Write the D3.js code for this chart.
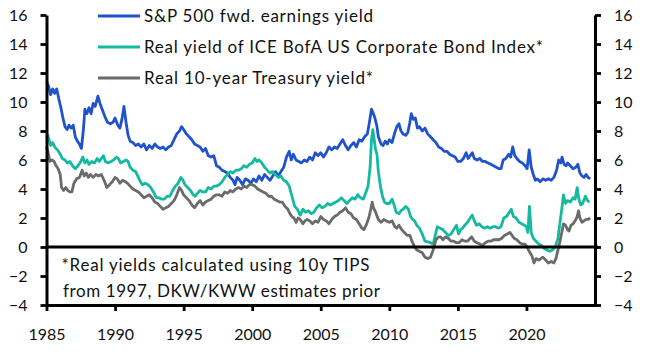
<!DOCTYPE html>
<html><head><meta charset="utf-8">
<script src="https://cdn.jsdelivr.net/npm/d3@7"></script>
<style>
html,body{margin:0;padding:0;background:#fff;}
svg{display:block;font-family:Lato,"Open Sans",sans-serif;}
</style></head><body>
<svg id="chart" width="646" height="355"></svg>
<script>
const seriesNames = ["S&P 500 fwd. earnings yield", "Real yield of ICE BofA US Corporate Bond Index*", "Real 10-year Treasury yield*"];
const seriesColors = ["#2052cc", "#14b9a0", "#6b6b6b"];

const spDates = [1985.0,1985.15,1985.3,1985.45,1985.6,1985.75,1985.9,1986.05,1986.2,1986.35,1986.5,1986.65,1986.8,1986.95,1987.1,1987.25,1987.4,1987.55,1987.7,1987.8,1987.95,1988.1,1988.25,1988.4,1988.55,1988.75,1988.9,1989.1,1989.3,1989.45,1989.65,1989.85,1990.0,1990.2,1990.35,1990.5,1990.65,1990.8,1990.95,1991.1,1991.3,1991.5,1991.7,1991.9,1992.1,1992.3,1992.5,1992.7,1992.9,1993.1,1993.3,1993.5,1993.7,1993.9,1994.1,1994.3,1994.5,1994.7,1994.85,1995.0,1995.2,1995.4,1995.6,1995.8,1996.0,1996.2,1996.4,1996.6,1996.8,1997.0,1997.2,1997.4,1997.6,1997.8,1998.0,1998.2,1998.4,1998.6,1998.75,1998.9,1999.1,1999.3,1999.5,1999.7,1999.9,2000.1,2000.3,2000.5,2000.7,2000.9,2001.1,2001.3,2001.5,2001.7,2001.9,2002.1,2002.3,2002.5,2002.7,2002.85,2003.0,2003.2,2003.4,2003.6,2003.8,2004.0,2004.2,2004.4,2004.6,2004.8,2005.0,2005.2,2005.4,2005.6,2005.8,2006.0,2006.2,2006.4,2006.6,2006.8,2007.0,2007.2,2007.4,2007.6,2007.8,2008.0,2008.2,2008.4,2008.55,2008.7,2008.8,2008.95,2009.1,2009.2,2009.4,2009.55,2009.7,2009.85,2010.0,2010.2,2010.4,2010.55,2010.7,2010.85,2011.0,2011.2,2011.35,2011.5,2011.6,2011.75,2011.9,2012.05,2012.2,2012.4,2012.6,2012.8,2013.0,2013.2,2013.4,2013.6,2013.8,2014.0,2014.2,2014.4,2014.6,2014.8,2015.0,2015.2,2015.4,2015.6,2015.75,2015.9,2016.05,2016.2,2016.4,2016.6,2016.8,2017.0,2017.2,2017.4,2017.6,2017.8,2018.0,2018.15,2018.3,2018.5,2018.7,2018.85,2019.0,2019.15,2019.3,2019.5,2019.7,2019.9,2020.05,2020.2,2020.35,2020.5,2020.65,2020.8,2021.0,2021.2,2021.4,2021.6,2021.8,2022.0,2022.2,2022.35,2022.5,2022.6,2022.75,2022.9,2023.0,2023.2,2023.4,2023.6,2023.75,2023.9,2024.05,2024.2,2024.35,2024.5,2024.65];
const spValues = [11.4,11.1,10.5,10.9,10.6,10.9,10.2,9.6,8.9,8.3,8.1,8.4,8.2,8.4,7.6,7.3,7.1,6.8,8.2,9.5,9.2,9.6,9.2,9.9,9.7,10.4,9.9,9.4,8.9,8.6,8.5,8.6,8.9,8.4,8.2,8.8,9.7,8.6,7.7,7.3,7.2,7.0,7.1,6.9,7.1,6.7,7.0,6.8,7.1,6.9,6.8,6.9,6.7,6.9,7.0,7.4,7.8,8.0,8.3,8.1,7.8,7.6,7.4,7.1,7.0,6.9,6.6,6.8,6.3,6.2,6.3,5.6,5.5,5.3,5.2,5.1,4.8,4.6,4.3,4.8,4.6,4.3,4.7,4.6,4.4,4.7,4.5,4.9,4.6,5.0,4.8,4.6,4.9,5.2,4.9,5.2,5.5,6.2,6.6,6.0,6.4,6.0,5.9,5.8,6.0,5.9,6.2,6.0,6.5,6.3,6.5,6.2,6.5,6.9,6.7,6.9,6.8,7.1,7.4,7.0,6.7,7.0,7.2,6.9,7.4,7.3,7.6,7.8,8.6,9.5,9.3,8.9,8.3,7.6,7.1,7.0,7.3,7.1,7.4,7.2,7.9,8.3,8.5,8.0,7.8,7.7,7.9,8.6,9.2,8.8,8.9,8.2,8.3,8.0,8.2,7.8,7.6,7.4,7.2,6.9,6.8,6.6,6.6,6.4,6.3,6.2,5.9,5.9,6.1,6.5,6.1,6.3,6.5,6.1,6.0,6.1,5.9,5.9,5.8,5.7,5.6,5.5,5.4,5.4,6.0,6.1,6.4,6.2,6.9,6.3,6.1,5.9,5.8,5.6,5.4,6.7,5.5,5.0,4.6,4.7,4.5,4.7,4.6,4.7,4.6,4.8,5.3,6.0,5.8,6.2,5.7,5.6,5.8,5.6,5.4,5.5,5.7,5.1,4.9,4.8,5.0,4.8,4.7];

const corpDates = [1985.0,1985.1,1985.3,1985.45,1985.6,1985.8,1986.0,1986.15,1986.35,1986.5,1986.7,1986.9,1987.1,1987.3,1987.5,1987.65,1987.8,1987.95,1988.1,1988.3,1988.5,1988.7,1988.85,1989.0,1989.15,1989.3,1989.5,1989.7,1989.9,1990.1,1990.25,1990.4,1990.6,1990.8,1990.95,1991.1,1991.3,1991.5,1991.7,1991.85,1992.0,1992.2,1992.4,1992.6,1992.8,1993.0,1993.2,1993.4,1993.6,1993.8,1994.0,1994.2,1994.4,1994.6,1994.8,1994.95,1995.1,1995.3,1995.5,1995.7,1995.85,1996.0,1996.2,1996.4,1996.6,1996.8,1997.0,1997.2,1997.4,1997.6,1997.8,1998.0,1998.2,1998.4,1998.6,1998.8,1999.0,1999.2,1999.4,1999.6,1999.8,2000.0,2000.2,2000.35,2000.5,2000.7,2000.9,2001.1,2001.3,2001.5,2001.7,2001.9,2002.1,2002.3,2002.5,2002.7,2002.9,2003.1,2003.3,2003.5,2003.7,2003.9,2004.1,2004.3,2004.5,2004.7,2004.9,2005.1,2005.3,2005.5,2005.7,2005.9,2006.1,2006.3,2006.5,2006.7,2006.9,2007.1,2007.3,2007.5,2007.7,2007.9,2008.1,2008.3,2008.45,2008.6,2008.7,2008.8,2008.9,2009.0,2009.1,2009.2,2009.35,2009.5,2009.65,2009.8,2010.0,2010.2,2010.35,2010.5,2010.7,2010.85,2011.0,2011.2,2011.4,2011.55,2011.7,2011.85,2012.0,2012.2,2012.4,2012.6,2012.8,2013.0,2013.2,2013.35,2013.5,2013.7,2013.9,2014.1,2014.3,2014.5,2014.7,2014.9,2015.05,2015.2,2015.35,2015.5,2015.7,2015.9,2016.05,2016.2,2016.35,2016.55,2016.75,2016.95,2017.15,2017.35,2017.55,2017.75,2017.95,2018.15,2018.35,2018.55,2018.75,2018.9,2019.05,2019.25,2019.45,2019.65,2019.85,2020.0,2020.1,2020.22,2020.35,2020.5,2020.7,2020.9,2021.1,2021.3,2021.5,2021.7,2021.9,2022.1,2022.3,2022.45,2022.6,2022.7,2022.85,2023.0,2023.2,2023.4,2023.55,2023.7,2023.8,2023.95,2024.1,2024.3,2024.45,2024.6];
const corpValues = [7.5,7.7,7.0,7.2,6.9,6.7,6.4,6.1,6.0,5.8,5.9,5.6,5.4,5.6,5.9,6.2,5.8,6.0,5.7,5.9,5.8,6.1,5.9,6.1,6.3,5.9,5.8,5.9,6.0,6.2,6.1,5.8,5.9,6.0,5.9,5.5,5.3,5.2,4.8,4.5,4.3,4.4,4.3,4.1,3.8,3.4,3.4,3.3,3.3,3.5,3.5,3.9,4.2,4.4,4.8,4.6,4.3,4.1,3.9,3.6,3.5,3.7,3.9,3.8,3.8,4.1,4.0,4.2,4.2,4.3,4.5,4.8,5.0,5.2,5.1,5.3,5.3,5.4,5.6,5.5,5.7,5.8,6.1,5.9,6.0,5.8,5.5,5.3,5.1,5.2,5.0,4.8,4.9,4.6,4.5,4.2,3.5,2.8,2.6,2.2,2.6,2.4,2.5,2.3,2.4,2.7,2.9,2.7,2.8,3.0,2.9,3.0,3.1,3.2,3.4,3.2,3.0,3.2,3.4,3.3,3.6,3.4,3.3,3.8,4.2,5.5,7.4,8.1,7.4,6.7,6.4,5.2,4.2,3.5,3.1,3.0,3.0,3.3,2.9,2.4,2.3,2.5,2.6,2.8,2.6,2.1,1.9,1.8,1.5,1.3,0.9,0.4,0.35,0.3,0.2,0.8,1.4,1.3,1.2,1.0,0.8,0.9,1.2,1.5,0.9,1.2,1.3,1.5,1.7,2.0,2.2,1.8,1.5,1.6,1.4,1.3,1.4,1.3,1.4,1.4,1.3,1.4,2.0,2.1,2.4,2.6,2.1,2.0,1.7,1.6,1.5,1.4,1.0,2.8,1.0,0.6,0.4,0.2,0.1,-0.1,-0.2,-0.3,-0.2,0.0,0.6,1.7,2.8,3.6,3.0,3.2,3.1,3.4,3.3,4.1,3.4,2.9,3.0,3.5,3.2,3.1];

const tsyDates = [1985.0,1985.1,1985.25,1985.4,1985.55,1985.7,1985.85,1986.0,1986.1,1986.25,1986.4,1986.55,1986.7,1986.85,1987.0,1987.2,1987.4,1987.6,1987.75,1987.9,1988.05,1988.2,1988.4,1988.6,1988.8,1989.0,1989.2,1989.4,1989.6,1989.8,1990.0,1990.15,1990.35,1990.55,1990.75,1990.9,1991.1,1991.3,1991.5,1991.7,1991.9,1992.1,1992.3,1992.5,1992.7,1992.9,1993.1,1993.3,1993.5,1993.7,1993.9,1994.1,1994.3,1994.5,1994.7,1994.85,1995.0,1995.2,1995.4,1995.6,1995.8,1996.0,1996.2,1996.4,1996.6,1996.8,1997.0,1997.2,1997.4,1997.6,1997.8,1998.0,1998.2,1998.4,1998.6,1998.8,1999.0,1999.2,1999.4,1999.6,1999.8,2000.0,2000.2,2000.4,2000.6,2000.8,2001.0,2001.2,2001.4,2001.6,2001.8,2002.0,2002.2,2002.4,2002.6,2002.75,2002.9,2003.05,2003.2,2003.35,2003.5,2003.7,2003.85,2004.0,2004.2,2004.4,2004.6,2004.8,2005.0,2005.2,2005.4,2005.6,2005.8,2006.0,2006.2,2006.4,2006.6,2006.8,2007.0,2007.2,2007.4,2007.6,2007.8,2008.0,2008.15,2008.35,2008.5,2008.65,2008.75,2008.85,2009.0,2009.2,2009.4,2009.6,2009.8,2010.0,2010.2,2010.4,2010.55,2010.7,2010.9,2011.1,2011.3,2011.5,2011.65,2011.8,2012.0,2012.2,2012.4,2012.6,2012.8,2013.0,2013.2,2013.4,2013.6,2013.75,2013.9,2014.1,2014.3,2014.5,2014.7,2014.9,2015.1,2015.3,2015.5,2015.7,2015.9,2016.0,2016.2,2016.4,2016.6,2016.8,2017.0,2017.2,2017.4,2017.6,2017.8,2018.0,2018.2,2018.4,2018.6,2018.8,2018.95,2019.1,2019.3,2019.5,2019.7,2019.9,2020.05,2020.2,2020.4,2020.55,2020.7,2020.9,2021.05,2021.2,2021.4,2021.6,2021.8,2022.0,2022.15,2022.3,2022.45,2022.6,2022.7,2022.85,2023.0,2023.1,2023.25,2023.4,2023.55,2023.7,2023.8,2023.9,2024.05,2024.2,2024.35,2024.5,2024.65];
const tsyValues = [6.9,6.6,5.9,6.0,5.9,5.6,5.4,5.0,4.1,3.9,4.1,3.9,3.8,3.8,4.4,4.7,4.8,5.3,4.9,5.1,4.8,5.0,4.8,5.0,4.9,5.0,4.6,4.1,4.3,4.5,4.8,4.7,4.4,4.6,4.5,4.4,4.2,4.0,3.9,3.8,3.6,3.4,3.5,3.6,3.4,3.1,3.0,2.8,2.6,2.7,2.8,3.0,3.2,3.6,4.1,3.9,3.6,3.4,3.2,2.9,2.7,3.0,3.2,2.9,3.1,3.2,3.3,3.5,3.6,3.6,3.5,3.8,3.7,3.9,3.8,4.0,4.1,4.0,4.2,4.1,4.3,4.3,4.2,4.0,3.9,3.8,3.7,3.5,3.5,3.3,3.2,3.1,3.1,2.8,2.6,2.3,2.1,2.0,1.7,2.0,1.9,1.6,1.8,1.9,1.8,1.6,1.8,1.7,2.1,1.9,1.8,1.6,1.9,2.1,2.2,2.4,2.5,2.7,2.4,2.3,2.0,1.9,1.6,1.3,1.2,1.6,2.0,2.6,3.1,2.7,2.4,1.9,1.7,1.9,1.8,1.7,1.8,1.4,1.3,1.5,1.2,1.0,0.8,0.8,0.4,0.1,-0.2,-0.3,-0.4,-0.7,-0.8,-0.7,-0.2,0.5,0.7,0.7,0.5,0.7,0.6,0.4,0.4,0.3,0.3,0.5,0.4,0.4,0.6,0.7,0.4,0.3,0.2,0.1,0.3,0.4,0.4,0.5,0.5,0.5,0.6,0.8,0.9,1.0,0.8,0.6,0.5,0.3,0.2,0.2,0.0,-0.3,-0.6,-1.1,-0.8,-0.9,-0.8,-0.7,-0.9,-1.1,-1.0,-1.1,-0.8,-0.2,0.4,1.1,1.6,1.5,1.2,1.1,1.5,1.6,1.8,2.1,2.5,2.0,1.7,1.8,1.9,1.9,2.0];

const yTicks = [-4,-2,0,2,4,6,8,10,12,14,16];
const xTicks = [1985,1990,1995,2000,2005,2010,2015,2020];
const footnoteLines = ["*Real yields calculated using 10y TIPS", "from 1997, DKW/KWW estimates prior"];

const svg = d3.select("#chart");
const plotLeft = 46.5, plotRight = 595, plotTop = 15, plotBottom = 305;
const x = d3.scaleLinear().domain([1985, 2025]).range([plotLeft, plotRight]);
const y = d3.scaleLinear().domain([-4, 16]).range([plotBottom, plotTop]);
const fontSize = 16;
const textSize = 17;
const legendWidths = [229, 399, 229];
const footnoteWidths = [308, 317];

const series = [
  {dates: spDates, values: spValues},
  {dates: corpDates, values: corpValues},
  {dates: tsyDates, values: tsyValues}
];

const line = d3.line().x(d => x(d[0])).y(d => y(d[1]));
series.forEach((s, i) => {
  const pts = s.dates.map((d, j) => [d, s.values[j]]);
  svg.append("path").datum(pts)
    .attr("fill", "none").attr("stroke", seriesColors[i])
    .attr("stroke-width", 2.8).attr("stroke-linejoin", "round")
    .attr("d", line);
});

// footnote box
svg.append("rect").attr("x", plotLeft + 2).attr("y", y(0) + 2)
  .attr("width", 340).attr("height", y(-4) - y(0) - 4).attr("fill", "#fff");
footnoteLines.forEach((t, i) => {
  svg.append("text").attr("x", i === 0 ? 61.5 : 63).attr("y", 271 + i * 26)
    .attr("font-size", textSize).attr("fill", "#111")
    .attr("textLength", footnoteWidths[i]).attr("lengthAdjust", "spacing").text(t);
});

// zero line
svg.append("line").attr("x1", plotLeft).attr("x2", plotRight + 3)
  .attr("y1", y(0)).attr("y2", y(0)).attr("stroke", "#000").attr("stroke-width", 2.8);

function styleAxis(g) {
  g.select(".domain").attr("stroke", "#000").attr("stroke-width", 3);
  g.selectAll(".tick line").attr("stroke", "#000").attr("stroke-width", 2.8);
  g.selectAll(".tick text").attr("font-size", fontSize).attr("fill", "#111")
    .attr("font-family", "Lato, 'Open Sans', sans-serif");
}

svg.append("g").attr("transform", `translate(${plotLeft},0)`)
  .call(d3.axisLeft(y).tickValues(yTicks).tickSize(6).tickSizeOuter(0).tickPadding(13))
  .call(styleAxis);
svg.append("g").attr("transform", `translate(${plotRight},0)`)
  .call(d3.axisRight(y).tickValues(yTicks).tickSize(6).tickSizeOuter(0).tickPadding(13))
  .call(styleAxis);
svg.append("g").attr("transform", `translate(0,${plotBottom})`)
  .call(d3.axisBottom(x).tickValues(xTicks).tickFormat(d3.format("d")).tickSize(6).tickSizeOuter(0).tickPadding(18))
  .call(styleAxis);

// legend
seriesNames.forEach((n, i) => {
  const ly = 16 + i * 31;
  svg.append("line").attr("x1", 98).attr("x2", 140).attr("y1", ly).attr("y2", ly)
    .attr("stroke", seriesColors[i]).attr("stroke-width", 3);
  svg.append("text").attr("x", 144).attr("y", ly).attr("dy", "0.36em")
    .attr("font-size", textSize).attr("fill", "#111")
    .attr("textLength", legendWidths[i]).attr("lengthAdjust", "spacing").text(n);
});
</script>
</body></html>
